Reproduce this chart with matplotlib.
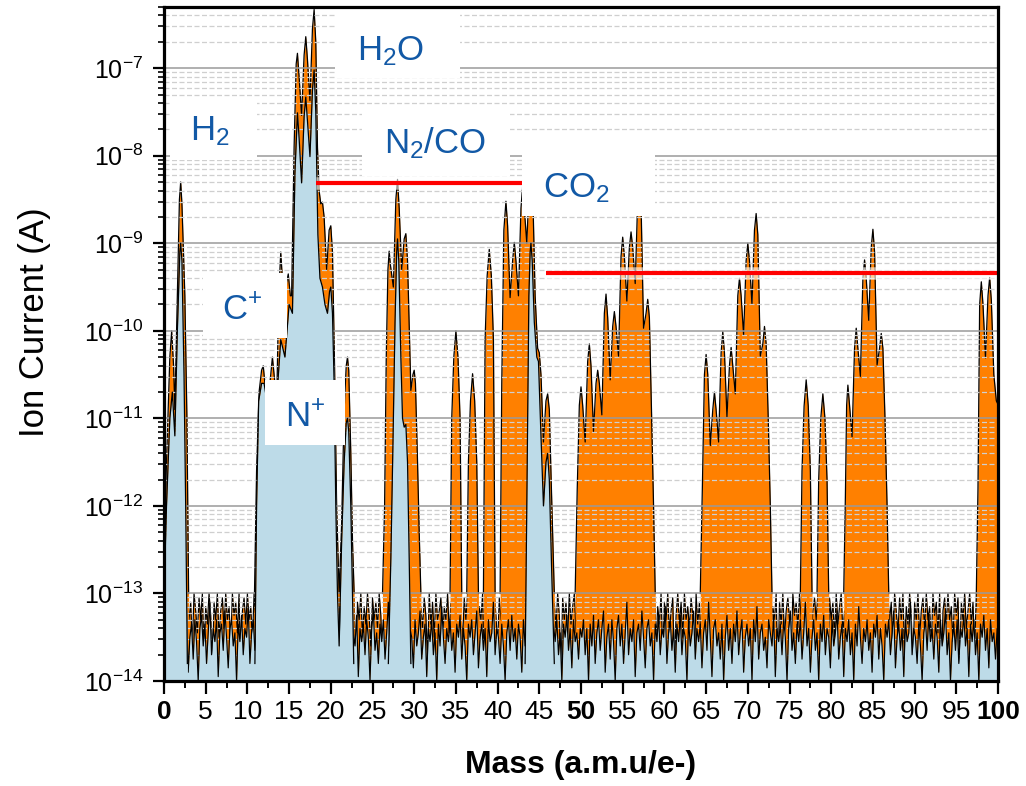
import numpy as np
import matplotlib
matplotlib.use('Agg')
import matplotlib.pyplot as plt
from matplotlib.ticker import LogLocator, MultipleLocator, NullFormatter
from matplotlib.patches import Rectangle

plt.rcParams['font.family'] = 'Liberation Sans'
plt.rcParams['mathtext.fontset'] = 'custom'
plt.rcParams['mathtext.rm'] = 'Liberation Sans'
plt.rcParams['mathtext.it'] = 'Liberation Sans:italic'
plt.rcParams['mathtext.bf'] = 'Liberation Sans:bold'

# ---- data: (mass, log10 ion current) ----
# orange spectrum, peak groups
orange_h2 = [(0.0, -12.6), (0.3, -11.5), (0.7, -10.3), (0.92, -10.0), (1.15, -10.4), (1.3, -10.9),
             (1.6, -9.6), (1.85, -8.5), (2.0, -8.3), (2.15, -8.55), (2.5, -9.6), (2.75, -11.0), (2.95, -13.0)]
orange_water = [(10.85, -13.0), (11.1, -11.6), (11.4, -10.7), (11.7, -10.45), (11.9, -10.4), (12.1, -10.6),
                (12.4, -11.6), (12.7, -10.6), (13.0, -10.3), (13.3, -10.6), (13.5, -10.9), (13.75, -9.6),
                (14.0, -9.1), (14.25, -9.5), (14.45, -9.9), (14.7, -9.45), (14.9, -9.35), (15.15, -9.6),
                (15.3, -9.6), (15.6, -7.9), (15.85, -6.95), (16.0, -6.83), (16.2, -7.1), (16.5, -7.54),
                (16.8, -6.85), (17.0, -6.64), (17.2, -6.9), (17.5, -7.37), (17.8, -6.55), (18.0, -6.33),
                (18.2, -6.7), (18.4, -7.9), (18.6, -8.4), (18.8, -8.55), (19.0, -8.53), (19.2, -8.7),
                (19.5, -9.3), (19.8, -8.85), (20.0, -8.8), (20.2, -9.1), (20.45, -10.4), (20.7, -12.0),
                (21.0, -13.0), (21.3, -12.2), (21.6, -10.9), (21.85, -10.4), (22.0, -10.3), (22.15, -10.45),
                (22.4, -11.4), (22.6, -12.4), (22.8, -13.0)]
orange_n2 = [(26.2, -13.0), (26.45, -12.0), (26.65, -10.3), (26.85, -9.3), (27.0, -9.09), (27.15, -9.25),
             (27.5, -9.5), (27.8, -8.5), (28.0, -8.27), (28.2, -8.6), (28.5, -9.3), (28.8, -8.95),
             (29.0, -8.89), (29.2, -9.2), (29.6, -10.68), (29.85, -10.5), (30.0, -10.45), (30.15, -10.6),
             (30.4, -11.5), (30.6, -12.3), (30.8, -13.0)]
orange_m35 = [(34.3, -13.0), (34.5, -11.0), (34.75, -10.3), (35.0, -10.0), (35.25, -10.3), (35.5, -11.0), (35.7, -13.0)]
orange_m37 = [(36.3, -13.0), (36.5, -11.5), (36.75, -10.8), (37.0, -10.49), (37.25, -10.8), (37.5, -11.5), (37.7, -13.0)]
orange_m39 = [(38.3, -13.0), (38.5, -10.1), (38.75, -9.37), (39.0, -9.07), (39.25, -9.37), (39.5, -10.1), (39.7, -13.0)]
orange_co2 = [(40.3, -13.0), (40.5, -10.6), (40.75, -8.85), (41.0, -8.52), (41.2, -8.8), (41.5, -9.62),
              (41.8, -9.2), (42.0, -8.99), (42.2, -9.2), (42.5, -9.6), (42.8, -8.6), (43.0, -8.35),
              (43.2, -8.6), (43.5, -9.0), (43.8, -8.3), (44.0, -8.15), (44.2, -8.35), (44.5, -9.6),
              (44.8, -10.2), (45.0, -10.25), (45.2, -10.5), (45.5, -11.27), (45.8, -10.8), (46.0, -10.72),
              (46.2, -10.9), (46.45, -11.8), (46.8, -13.0)]
orange_m50 = [(49.3, -13.0), (49.55, -11.8), (49.8, -10.85), (50.0, -10.64), (50.2, -10.85), (50.5, -11.27),
              (50.8, -10.35), (51.0, -10.15), (51.2, -10.4), (51.5, -11.15), (51.8, -10.6), (52.0, -10.45),
              (52.2, -10.6), (52.5, -10.96), (52.8, -9.8), (53.0, -9.58), (53.2, -9.85), (53.5, -10.56),
              (53.8, -9.95), (54.0, -9.78), (54.2, -9.95), (54.5, -10.29), (54.8, -9.15), (55.0, -8.93),
              (55.2, -9.15), (55.5, -9.66), (55.8, -9.05), (56.0, -8.87), (56.2, -9.05), (56.5, -9.46),
              (56.8, -8.5), (57.0, -8.3), (57.2, -8.55), (57.5, -9.97), (57.8, -9.8), (58.0, -9.64),
              (58.2, -9.85), (58.45, -10.9), (58.7, -12.0), (58.9, -13.0)]
orange_m65 = [(64.3, -13.0), (64.55, -11.8), (64.8, -10.5), (65.0, -10.27), (65.2, -10.5), (65.5, -11.31),
              (65.8, -10.9), (66.0, -10.70), (66.2, -10.9), (66.5, -11.27), (66.8, -10.25), (67.0, -10.01),
              (67.2, -10.25), (67.5, -10.98), (67.8, -10.4), (68.0, -10.19), (68.2, -10.4), (68.5, -10.72),
              (68.8, -9.6), (69.0, -9.40), (69.2, -9.6), (69.5, -10.05), (69.8, -9.2), (70.0, -9.0),
              (70.2, -9.2), (70.5, -9.70), (70.8, -8.85), (71.0, -8.66), (71.2, -8.9), (71.5, -10.29),
              (71.8, -10.15), (72.0, -9.95), (72.2, -10.15), (72.45, -11.0), (72.7, -12.0), (72.9, -13.0)]
orange_m77 = [(76.3, -13.0), (76.5, -11.6), (76.75, -10.86), (77.0, -10.56), (77.25, -10.86), (77.5, -11.6), (77.7, -13.0)]
orange_m79 = [(78.3, -13.0), (78.5, -11.7), (78.75, -11.0), (79.0, -10.72), (79.25, -11.0), (79.5, -11.7), (79.7, -13.0)]
orange_m85 = [(81.5, -13.0), (81.7, -11.9), (81.85, -10.85), (82.0, -10.62), (82.2, -10.85), (82.5, -11.21),
              (82.8, -10.2), (83.0, -9.97), (83.2, -10.2), (83.5, -10.52), (83.8, -9.4), (84.0, -9.19),
              (84.2, -9.4), (84.5, -9.88), (84.8, -9.05), (85.0, -8.84), (85.2, -9.1), (85.5, -10.39),
              (85.8, -10.2), (86.0, -10.03), (86.2, -10.2), (86.45, -11.0), (86.7, -12.0), (86.9, -13.0)]
orange_m99 = [(97.4, -13.0), (97.6, -11.8), (97.8, -9.7), (98.0, -9.44), (98.2, -9.7), (98.5, -10.31),
              (98.8, -9.6), (99.0, -9.39), (99.2, -9.65), (99.5, -10.5), (99.8, -10.8), (100.0, -10.84)]

# light blue spectrum, peak groups
blue_h2 = [(0.0, -13.0), (0.3, -12.0), (0.7, -11.0), (1.0, -10.7), (1.3, -11.2), (1.6, -10.0), (1.9, -9.1),
           (2.0, -9.0), (2.15, -9.2), (2.4, -10.5), (2.6, -12.0), (2.8, -13.8)]
blue_water = [(10.9, -13.8), (11.1, -12.0), (11.35, -10.8), (11.7, -10.6), (12.0, -10.6), (12.5, -10.9),
              (13.0, -10.6), (13.5, -10.8), (14.0, -10.1), (14.5, -10.3), (15.0, -9.7), (15.4, -9.8),
              (15.7, -8.2), (16.0, -7.51), (16.2, -7.8), (16.5, -8.31), (16.8, -7.55), (17.0, -7.33),
              (17.2, -7.6), (17.5, -8.01), (17.8, -7.25), (18.0, -7.02), (18.2, -7.5), (18.45, -8.9),
              (18.7, -9.4), (19.0, -9.5), (19.3, -9.7), (19.6, -9.8), (19.85, -9.55), (20.0, -9.5),
              (20.2, -9.8), (20.4, -10.6), (20.6, -12.0), (20.8, -13.0), (21.0, -13.6), (21.3, -12.4),
              (21.6, -11.5), (21.85, -11.05), (22.0, -11.0), (22.15, -11.15), (22.4, -12.0), (22.6, -13.0),
              (22.75, -13.8)]
blue_n2 = [(26.9, -13.8), (27.2, -12.6), (27.45, -11.3), (27.7, -9.9), (27.9, -9.1), (28.0, -8.95),
           (28.15, -9.2), (28.4, -10.3), (28.6, -11.0), (28.8, -11.1), (29.0, -11.07), (29.2, -11.5),
           (29.4, -12.6), (29.6, -13.8)]
blue_co2 = [(43.3, -13.8), (43.5, -12.0), (43.75, -9.6), (43.9, -9.1), (44.0, -9.0), (44.15, -9.2),
            (44.4, -9.9), (44.7, -10.3), (44.9, -10.35), (45.2, -11.2), (45.5, -12.0), (45.8, -11.5),
            (46.0, -11.4), (46.2, -11.7), (46.5, -12.8), (46.8, -13.8)]

# noise floor: depth below 1e-13 A in decades, one value every 0.2 a.m.u.
orange_noise_depth = [
    0, .3, .05, .45, 0, .2, .8, 0, .35, .1, .4, 0, .25, 1, .05, .3, .1, .6, 0, .2,
    .45, .05, .3, 0, .7, .15, .35, 0, .25, .9, .1, .3, 0, .5, .2, .05, .4, 0, .3, .15,
    .6, 0, .25, .1, .45, 0, 1, .2, .05, .35, 0, .3, .15, .55, 0, .25, .05, .8, .1, .3,
    0, .4, .2, 0, .35, .1, .65, 0, .3, .05, .5, .15, 0, .3, .95, .05, .25, 0, .45, .1,
    .3, 0, .6, .2, .05, .35, 0, .75, .15, .3, 0, .25, .5, .05, .3, .1, 0, .4, .2, .85,
    .05, .3, 0, .55, .15, .35, 0, .25, .7, .1, .3, 0, .45, .2, .05, 1, .1, .3, 0, .5,
    .15, .35, 0, .25, .6, .05, .3, .1, .4, 0, .25, .8, .05, .3, 0, .5, .15, .35, 0, .65,
    .1, .3, 0, .45, .2, .05, .9, .25, 0, .35, .1, .55, 0, .3, .15, .4, .05, .25, .75, 0,
    .35, .1, .5, 0, .3, .2, .05, .6, .15, .3, 0, .45, .1, .95, .05, .3, 0, .4, .2, .55,
    .05, .3, 0, .25, .7, .1, .35, 0, .5, .15, .3, 0, .85, .2, .05, .35, .1, .45, 0, .25,
    .6, .05, .3, 0, .4, .15, .3, 0, 1, .1, .35, 0, .5, .2, .05, .3, .65, 0, .25, .1,
    .45, 0, .3, .15, .8, .05, .35, 0, .5, .2, .05, .3, 0, .6, .1, .4, 0, .25, .9, .05,
    .3, .1, .5, 0, .35, .15, 0, .45, .2, .7, 0, .3, .1, .55, 0, .25, .05, .4, .2, .95,
    .05, .3, 0, .5, .15, .35, 0, .25, .65, .1, .3, 0, .45, .2, .05, 1, .1, .3, 0, .5,
    .15, .35, 0, .25, .6, .05, .3, .1, .4, 0, .25, .75, .05, .3, 0, .55, .15, .35, 0, .7,
    .1, .3, 0, .45, .2, .05, .85, .25, 0, .35, .1, .5, 0, .3, .15, .4, .05, .25, .8, 0,
    .35, .1, .55, 0, .3, .2, .05, .65, .15, .3, 0, .45, .1, .9, .05, .3, 0, .4, .2, .5,
    .05, .3, 0, .25, .75, .1, .35, 0, .5, .15, .3, 0, .8, .2, .05, .35, .1, .45, 0, .25,
    .55, .05, .3, 0, .4, .15, .3, 0, .95, .1, .35, 0, .5, .2, .05, .3, .7, 0, .25, .1,
    .4, 0, .3, .15, .85, .05, .35, 0, .55, .2, .05, .3, 0, .6, .1, .45, 0, .25, 1, .05,
    .3, .1, .5, 0, .35, .15, 0, .45, .2, .75, 0, .3, .1, .5, 0, .25, .05, .4, .2, .9,
    0, .3, .05, .45, 0, .2, .8, 0, .35, .1, .4, 0, .25, .95, .05, .3, .1, .6, 0, .2,
    .45, .05, .3, 0, .7, .15, .35, 0, .25, .85, .1, .3, 0, .5, .2, .05, .4, 0, .3, .15,
    .6, 0, .25, .1, .45, 0, 1, .2, .05, .35, 0, .3, .15, .55, 0, .25, .05, .8, .1, .3,
    0, .4, .2, 0, .35, .1, .65, 0, .3, .05, .5, .15, 0, .3, .9, .05, .25, 0, .45, .1,
    0]
blue_noise_depth = [
    .5, .3, .7, .4, 1, .35, .6, .25, .8, .45, .3, .65, .4, .2, .9, .5, .35, .75, .3, .55,
    1, .4, .25, .6, .35, .8, .45, .1, .7, .4, .55, .3, .95, .45, .35, .65, .2, .5, .85, .4,
    .3, .6, .45, 1, .35, .55, .25, .7, .4, .5, .15, .8, .45, .3, .65, .4, .9, .35, .55, .25,
    .7, .4, .5, 1, .3, .6, .45, .2, .75, .4, .55, .35, .85, .45, .3, .65, .1, .5, .95, .4,
    .3, .6, .45, .75, .35, 1, .5, .25, .65, .4, .8, .35, .55, .2, .7, .45, .3, .9, .5, .35,
    .6, .4, 1, .3, .55, .15, .75, .45, .35, .65, .5, .85, .3, .45, .6, .25, .95, .4, .55, .35,
    .7, .3, .5, 1, .4, .2, .65, .45, .8, .35, .55, .3, .75, .45, .1, .6, .4, .9, .5, .3,
    .65, .45, 1, .35, .55, .25, .7, .4, .5, .85, .3, .6, .45, .2, .75, .5, .35, .95, .4, .55,
    .3, .7, .45, 1, .35, .6, .15, .5, .8, .4, .55, .3, .65, .45, .9, .35, .5, .25, .75, .4,
    .6, 1, .35, .5, .3, .7, .45, .2, .85, .5, .35, .65, .4, .95, .3, .55, .45, .1, .7, .4,
    .5, .8, .35, .6, 1, .45, .3, .65, .25, .55, .4, .75, .35, .5, .9, .3, .6, .45, .2, .7,
    .45, 1, .55, .35, .65, .3, .8, .4, .5, .25, .6, .4, .95, .35, .55, .3, .7, .45, 1, .35,
    .5, .25, .65, .4, .85, .3, .55, .45, .75, .4, .5, .3, .7, .4, 1, .35, .6, .25, .8, .45,
    .3, .65, .4, .2, .9, .5, .35, .75, .3, .55, 1, .4, .25, .6, .35, .8, .45, .1, .7, .4,
    .55, .3, .95, .45, .35, .65, .2, .5, .85, .4, .3, .6, .45, 1, .35, .55, .25, .7, .4, .5,
    .15, .8, .45, .3, .65, .4, .9, .35, .55, .25, .7, .4, .5, 1, .3, .6, .45, .2, .75, .4,
    .55, .35, .85, .45, .3, .65, .1, .5, .95, .4, .3, .6, .45, .75, .35, 1, .5, .25, .65, .4,
    .8, .35, .55, .2, .7, .45, .3, .9, .5, .35, .6, .4, 1, .3, .55, .15, .75, .45, .35, .65,
    .5, .85, .3, .45, .6, .25, .95, .4, .55, .35, .7, .3, .5, 1, .4, .2, .65, .45, .8, .35,
    .55, .3, .75, .45, .1, .6, .4, .9, .5, .3, .65, .45, 1, .35, .55, .25, .7, .4, .5, .85,
    .3, .6, .45, .2, .75, .5, .35, .95, .4, .55, .3, .7, .45, 1, .35, .6, .15, .5, .8, .4,
    .55, .3, .65, .45, .9, .35, .5, .25, .75, .4, .6, 1, .35, .5, .3, .7, .45, .2, .85, .5,
    .35, .65, .4, .95, .3, .55, .45, .1, .7, .4, .5, .8, .35, .6, 1, .45, .3, .65, .25, .55,
    .4, .75, .35, .5, .9, .3, .6, .45, .2, .7, .45, 1, .55, .35, .65, .3, .8, .4, .5, .25,
    .6, .4, .95, .35, .55, .3, .7, .45, 1, .35, .5, .25, .65, .4, .85, .3, .55, .45, .75, .4,
    .5]
noise_top = 1e-13

# red reference levels
red_mass = [(18.2, 42.9), (45.8, 100.0)]
red_current = [4.9e-9, 4.6e-10]

# species labels: text, box (x0, x1, y0, y1 in pixels), text anchor (x, baseline y in pixels)
labels = ['H$_2$O', 'H$_2$', 'N$_2$/CO', 'CO$_2$', 'C$^{+}$', 'N$^{+}$']
label_boxes = [(335, 460, 9, 78), (170, 257, 100, 160), (362, 510, 110, 176),
               (522, 655, 155, 216), (203, 287, 273, 338), (265, 345, 380, 445)]
label_pos = [(391, 60), (210, 140), (435, 153), (576, 197), (242, 320), (305, 427)]

W, H = 1026, 786
ORANGE = '#ff8000'
LBLUE = '#bddbe8'
TXTBLUE = '#1259a6'
FLOOR = 1e-15


def draw_peak(ax, pts, color, z):
    m = np.array([p[0] for p in pts])
    c = 10.0 ** np.array([p[1] for p in pts])
    ax.fill_between(m, FLOOR, c, color=color, lw=0, zorder=z)
    ax.plot(m, c, color='black', lw=0.9, zorder=z + 0.05)


def main():
    fig = plt.figure(figsize=(W / 100, H / 100), dpi=100)
    ax = fig.add_axes([164 / W, 1 - 681 / H, 834 / W, 674 / H])
    ax.set_yscale('log')

    # orange spectrum (under the grid)
    om = np.linspace(0, 100, len(orange_noise_depth))
    on = noise_top * 10.0 ** (-np.array(orange_noise_depth))
    ax.fill_between(om, FLOOR, on, color=ORANGE, lw=0, zorder=1.0)
    ax.plot(om, on, color='black', lw=0.85, zorder=1.05)
    for pts in [orange_h2, orange_water, orange_n2, orange_m35, orange_m37, orange_m39, orange_co2,
                orange_m50, orange_m65, orange_m77, orange_m79, orange_m85, orange_m99]:
        draw_peak(ax, pts, ORANGE, 1.2)

    # blue spectrum (above the grid)
    bm = np.linspace(0, 100, len(blue_noise_depth)) + 0.1
    bn = noise_top * 10.0 ** (-np.array(blue_noise_depth))
    ax.fill_between(bm, FLOOR, bn, color=LBLUE, lw=0, zorder=3.0)
    ax.plot(bm, bn, color='black', lw=0.85, zorder=3.05)
    for pts in [blue_h2, blue_water, blue_n2, blue_co2]:
        draw_peak(ax, pts, LBLUE, 3.2)

    # red lines with a soft white halo
    for (m0, m1), cur in zip(red_mass, red_current):
        ax.plot([m0, m1], [cur, cur], color='white', lw=9, alpha=0.6, zorder=3.8, solid_capstyle='butt')
        ax.plot([m0, m1], [cur, cur], color='#ff0000', lw=3, zorder=3.9, solid_capstyle='butt')

    # white label boxes and labels
    for txt, (x0, x1, y0, y1), (tx, ty) in zip(labels, label_boxes, label_pos):
        r = Rectangle((x0 / W, 1 - y1 / H), (x1 - x0) / W, (y1 - y0) / H, transform=fig.transFigure,
                      facecolor='white', edgecolor='none', zorder=5)
        ax.add_patch(r)
        ax.text(tx / W, 1 - ty / H, txt, transform=fig.transFigure, ha='center', va='baseline',
                fontsize=25, color=TXTBLUE, zorder=6)

    ax.set_xlim(0, 100)
    ax.set_ylim(1e-14, 5e-7)

    ax.xaxis.set_major_locator(MultipleLocator(5))
    ax.xaxis.set_minor_locator(MultipleLocator(2.5))
    xt = list(range(0, 101, 5))
    ax.set_xticks(xt)
    ax.set_xticklabels([str(v) for v in xt])
    for lab in ax.get_xticklabels():
        if lab.get_text() in ('0', '50', '100'):
            lab.set_fontweight('bold')

    ax.yaxis.set_major_locator(LogLocator(base=10, numticks=20))
    ax.yaxis.set_minor_locator(LogLocator(base=10, subs=np.arange(2, 10), numticks=20))
    ax.yaxis.set_minor_formatter(NullFormatter())

    ax.tick_params(axis='x', which='major', direction='out', length=9, width=1.6, labelsize=19, pad=5)
    ax.tick_params(axis='x', which='minor', direction='out', length=5, width=1.4)
    ax.tick_params(axis='y', which='major', direction='out', length=8, width=1.6, labelsize=18, pad=7)
    ax.tick_params(axis='y', which='minor', direction='out', length=4, width=1.2)

    ax.set_axisbelow(False)
    ax.grid(True, which='major', axis='y', color='#9a9a9a', lw=1.1)
    ax.grid(True, which='minor', axis='y', color='#cfcfcf', lw=0.9, linestyle=(0, (4, 2)))
    ax.grid(False, axis='x', which='both')

    for s in ax.spines.values():
        s.set_linewidth(2.3)
        s.set_zorder(10)

    ax.set_xlabel('Mass (a.m.u/e-)', fontsize=23, fontweight='bold')
    ax.set_ylabel('Ion Current (A)', fontsize=25)
    ax.xaxis.set_label_coords(0.5, -0.103)
    ax.yaxis.set_label_coords(-0.135, 0.533)

    fig.savefig('out.png', dpi=100)


if __name__ == "__main__":
    main()
